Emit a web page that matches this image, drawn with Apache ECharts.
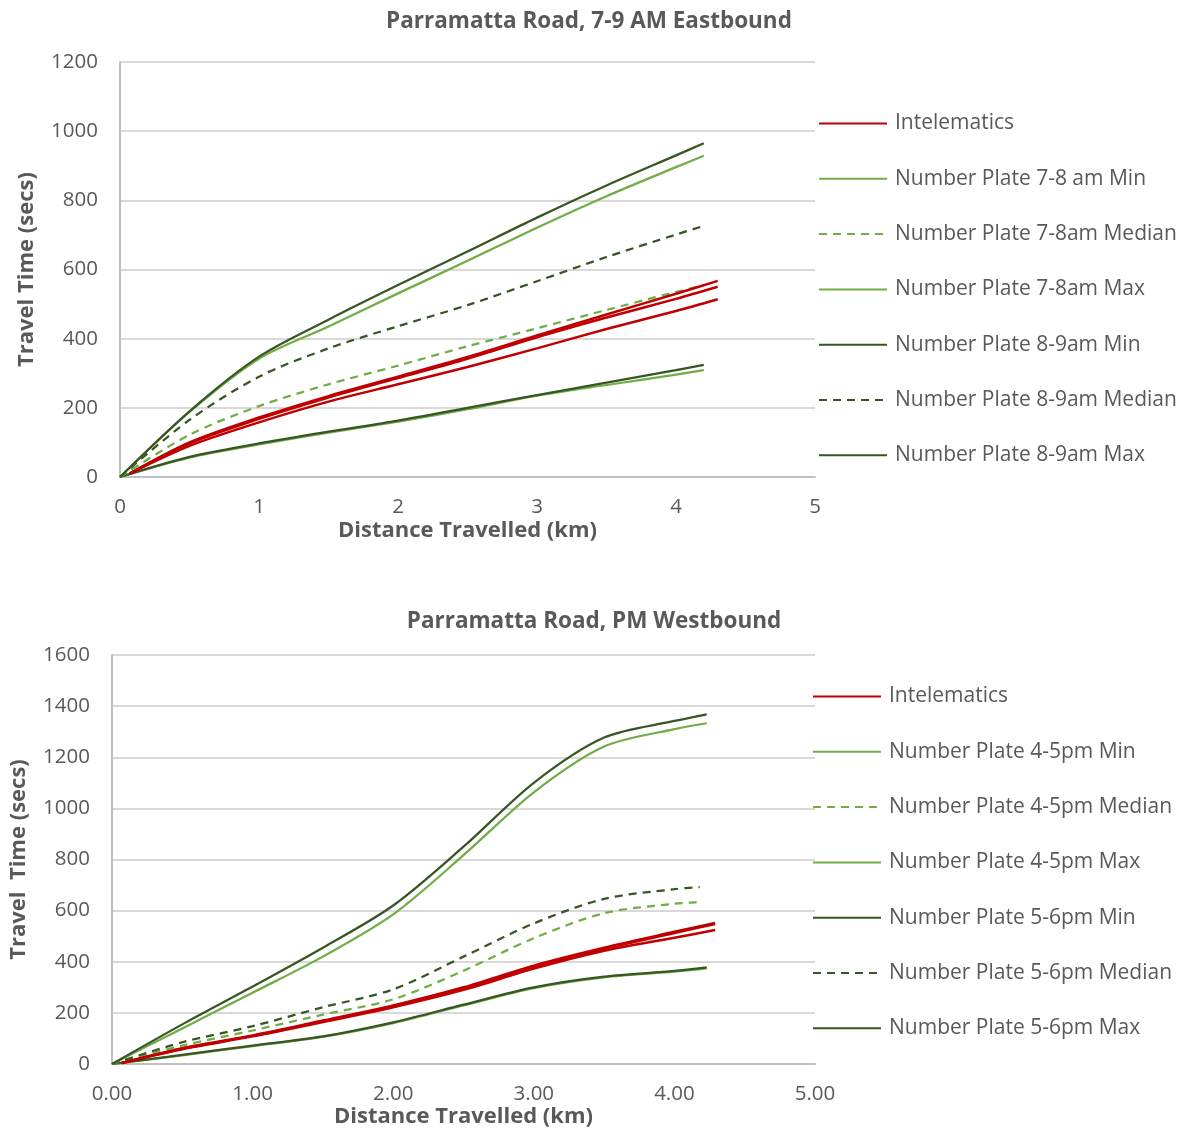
<!DOCTYPE html>
<html>
<head>
<meta charset="utf-8">
<script src="https://cdn.jsdelivr.net/npm/echarts@6/dist/echarts.min.js"></script>
<style>
html,body{margin:0;padding:0;background:#fff;}
#chart{width:1184px;height:1133px;}
</style>
</head>
<body>
<div id="chart"></div>
<script>
// ---------- Top chart: Parramatta Road, 7-9 AM Eastbound ----------
const amTitle = 'Parramatta Road, 7-9 AM Eastbound';
const amX = [0, 0.5, 1, 1.5, 2, 2.5, 3, 3.5, 4, 4.2];
const amRedX = [0.07, 0.5, 1, 1.5, 2, 2.5, 3, 3.5, 4, 4.3];
const amIntelematicsA = [10, 100, 172, 234, 290, 347, 409, 470, 530, 567];
const amIntelematicsB = [10, 97, 168, 230, 286, 342, 404, 461, 515, 550];
const amIntelematicsC = [10, 90, 158, 218, 268, 318, 372, 428, 480, 514];
const am78Min = [0, 56, 94, 128, 160, 196, 235, 266, 296, 309];
const am78Median = [0, 122, 205, 268, 322, 378, 430, 483, 535, 555];
const am78Max = [0, 188, 342, 435, 531, 625, 721, 812, 896, 929];
const am89Min = [0, 58, 97, 131, 163, 200, 237, 273, 309, 324];
const am89Median = [0, 165, 290, 372, 436, 497, 566, 636, 701, 726];
const am89Max = [0, 190, 348, 455, 555, 652, 750, 843, 930, 965];
const amXTicks = [0, 1, 2, 3, 4, 5];
const amYTicks = [0, 200, 400, 600, 800, 1000, 1200];
const amLegend = ['Intelematics', 'Number Plate 7-8 am Min', 'Number Plate 7-8am Median',
  'Number Plate 7-8am Max', 'Number Plate 8-9am Min', 'Number Plate 8-9am Median', 'Number Plate 8-9am Max'];

// ---------- Bottom chart: Parramatta Road, PM Westbound ----------
const pmTitle = 'Parramatta Road, PM Westbound';
const pmX = [0, 0.5, 1, 1.5, 2, 2.5, 3, 3.5, 4, 4.23];
const pmMedX = [0, 0.5, 1, 1.5, 2, 2.5, 3, 3.5, 4, 4.18];
const pmRedX = [0.07, 0.5, 1, 1.5, 2, 2.5, 3, 3.5, 4, 4.29];
const pmIntelematicsA = [4, 62, 112, 170, 229, 300, 385, 455, 517, 552];
const pmIntelematicsB = [4, 60, 110, 167, 225, 295, 380, 450, 512, 548];
const pmIntelematicsC = [4, 58, 108, 164, 222, 290, 373, 443, 494, 524];
const pm45Min = [0, 34, 70, 106, 160, 229, 297, 339, 361, 374];
const pm45Median = [0, 72, 131, 193, 253, 365, 492, 590, 627, 633];
const pm45Max = [0, 139, 279, 420, 585, 817, 1063, 1242, 1310, 1333];
const pm56Min = [0, 36, 72, 108, 163, 232, 300, 342, 364, 378];
const pm56Median = [0, 85, 148, 222, 292, 420, 550, 646, 684, 692];
const pm56Max = [0, 155, 303, 455, 620, 850, 1100, 1277, 1342, 1368];
const pmXTicks = [0, 1, 2, 3, 4, 5];
const pmYTicks = [0, 200, 400, 600, 800, 1000, 1200, 1400, 1600];
const pmLegend = ['Intelematics', 'Number Plate 4-5pm Min', 'Number Plate 4-5pm Median',
  'Number Plate 4-5pm Max', 'Number Plate 5-6pm Min', 'Number Plate 5-6pm Median', 'Number Plate 5-6pm Max'];

const RED = '#C00000', LIGHT = '#70AD47', DARK = '#375623';
const TXT = '#595959';
const FONT = '"Open Sans", "Noto Sans", sans-serif';

function zip(xs, ys) { return xs.map((x, i) => [x, ys[i]]); }

function mk(name, xs, ys, color, dashed, idx, width) {
  return {
    type: 'line', name: name, xAxisIndex: idx, yAxisIndex: idx,
    data: zip(xs, ys), smooth: 0.3, symbol: 'none', showSymbol: false,
    lineStyle: { color: color, width: width || 2.25, type: dashed ? [8, 6] : 'solid', cap: 'butt' },
    itemStyle: { color: color },
    emphasis: { disabled: true }, animation: false
  };
}

const series = [
  // top
  mk(amLegend[1], amX, am78Min, LIGHT, false, 0),
  mk(amLegend[4], amX, am89Min, DARK, false, 0),
  mk(amLegend[2], amX, am78Median, LIGHT, true, 0),
  mk(amLegend[5], amX, am89Median, DARK, true, 0),
  mk(amLegend[3], amX, am78Max, LIGHT, false, 0),
  mk(amLegend[6], amX, am89Max, DARK, false, 0),
  mk(amLegend[0], amRedX, amIntelematicsC, RED, false, 0, 2.5),
  mk(amLegend[0], amRedX, amIntelematicsB, RED, false, 0, 2.5),
  mk(amLegend[0], amRedX, amIntelematicsA, RED, false, 0, 2.5),
  // bottom
  mk(pmLegend[1], pmX, pm45Min, LIGHT, false, 1),
  mk(pmLegend[4], pmX, pm56Min, DARK, false, 1),
  mk(pmLegend[2], pmMedX, pm45Median, LIGHT, true, 1),
  mk(pmLegend[5], pmMedX, pm56Median, DARK, true, 1),
  mk(pmLegend[3], pmX, pm45Max, LIGHT, false, 1),
  mk(pmLegend[6], pmX, pm56Max, DARK, false, 1),
  mk(pmLegend[0], pmRedX, pmIntelematicsC, RED, false, 1, 2.5),
  mk(pmLegend[0], pmRedX, pmIntelematicsB, RED, false, 1, 2.5),
  mk(pmLegend[0], pmRedX, pmIntelematicsA, RED, false, 1, 2.5)
];

function xAxis(idx, ticks, fmt, name, gap) {
  return {
    type: 'value', gridIndex: idx, min: ticks[0], max: ticks[ticks.length - 1], interval: ticks[1] - ticks[0],
    name: name, nameLocation: 'middle', nameGap: gap,
    nameTextStyle: { color: TXT, fontFamily: FONT, fontWeight: 'bold', fontSize: 22 },
    axisLine: { show: true, lineStyle: { color: '#BFBFBF', width: 2 } },
    axisTick: { show: false },
    splitLine: { show: false },
    axisLabel: { color: TXT, fontFamily: FONT, fontSize: 20.5, margin: 20, formatter: fmt }
  };
}
function yAxis(idx, ticks, name, gap) {
  return {
    type: 'value', gridIndex: idx, min: ticks[0], max: ticks[ticks.length - 1], interval: ticks[1] - ticks[0],
    name: name, nameLocation: 'middle', nameGap: gap, nameRotate: 90,
    nameTextStyle: { color: TXT, fontFamily: FONT, fontWeight: 'bold', fontSize: 22 },
    axisLine: { show: true, lineStyle: { color: '#BFBFBF', width: 2 } },
    axisTick: { show: false },
    splitLine: { show: true, lineStyle: { color: '#D9D9D9', width: 2 } },
    axisLabel: { color: TXT, fontFamily: FONT, fontSize: 20.5, margin: 22, formatter: v => String(v) }
  };
}
function legend(names, left, top) {
  return {
    data: names, orient: 'vertical', left: left, top: top, padding: 0,
    itemWidth: 68, itemHeight: 20, itemGap: 34.3,
    itemStyle: { opacity: 0 },
    textStyle: { color: TXT, fontFamily: FONT, fontSize: 21, lineHeight: 20, padding: [0, 0, 0, 3] },
    selectedMode: false
  };
}

const option = {
  backgroundColor: '#ffffff',
  animation: false,
  title: [
    { text: amTitle, left: 584, top: 5, textAlign: 'center',
      textStyle: { color: TXT, fontFamily: FONT, fontWeight: 'bold', fontSize: 22.5 } },
    { text: pmTitle, left: 589, top: 605, textAlign: 'center',
      textStyle: { color: TXT, fontFamily: FONT, fontWeight: 'bold', fontSize: 22.5 } }
  ],
  legend: [legend(amLegend, 818, 113), legend(pmLegend, 812, 686)],
  grid: [
    { left: 120, top: 62, width: 695, height: 415, containLabel: false },
    { left: 108, top: 655, width: 707, height: 409, containLabel: false }
  ],
  xAxis: [
    xAxis(0, amXTicks, v => String(v), 'Distance Travelled (km)', 43),
    xAxis(1, pmXTicks, v => v.toFixed(2), 'Distance Travelled (km)', 42)
  ],
  yAxis: [
    yAxis(0, amYTicks, 'Travel Time (secs)', 82),
    yAxis(1, pmYTicks, 'Travel  Time (secs)', 82)
  ],
  series: series
};

const chart = echarts.init(document.getElementById('chart'), null, { renderer: 'canvas' });
chart.setOption(option);
</script>
</body>
</html>
